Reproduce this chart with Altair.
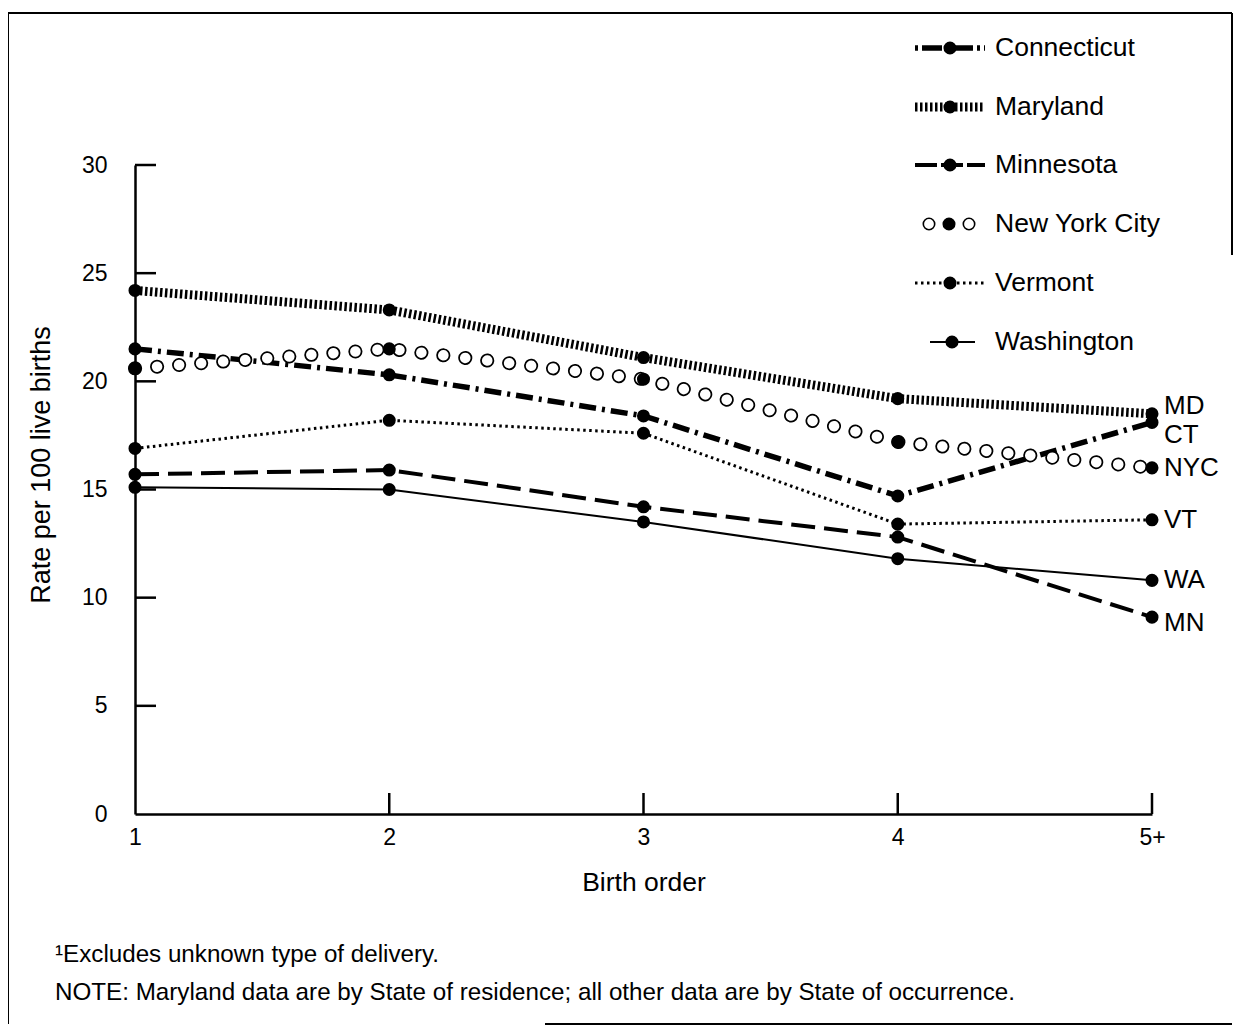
import altair as alt
import pandas as pd

orders = ["1", "2", "3", "4", "5+"]
states = ["Connecticut", "Maryland", "Minnesota", "New York City", "Vermont", "Washington"]
abbrs = ["CT", "MD", "MN", "NYC", "VT", "WA"]
ct = [21.5, 20.3, 18.4, 14.7, 18.1]
md = [24.2, 23.3, 21.1, 19.2, 18.5]
mn = [15.7, 15.9, 14.2, 12.8, 9.1]
nyc = [20.6, 21.5, 20.1, 17.2, 16.0]
vt = [16.9, 18.2, 17.6, 13.4, 13.6]
wa = [15.1, 15.0, 13.5, 11.8, 10.8]
y_ticks = [0, 5, 10, 15, 20, 25, 30]
x_inner_ticks = ["2", "3", "4", "5+"]
y_inner_ticks = [5, 10, 15, 20, 25, 30]

series = dict(zip(states, [ct, md, mn, nyc, vt, wa]))
rows = []
for s, vals in series.items():
    for o, v in zip(orders, vals):
        rows.append({"state": s, "order": o, "rate": v})
df = pd.DataFrame(rows)

FONT = "Liberation Sans"
W, H = 1017, 649

X = alt.X("order:O", sort=orders,
          scale=alt.Scale(type="point", domain=orders, padding=0),
          axis=alt.Axis(labelAngle=0, ticks=False, domainWidth=2.5, domainColor="black",
                        labelFontSize=23, labelPadding=12, labelColor="black", labelFont=FONT,
                        title="Birth order", titleFontSize=26.5, titleFontWeight="normal",
                        titleColor="black", titleFont=FONT, titlePadding=20, grid=False))
Y = alt.Y("rate:Q", scale=alt.Scale(domain=[0, 30], nice=False, zero=True),
          axis=alt.Axis(values=y_ticks, ticks=False, domainWidth=2.5, domainColor="black",
                        labelFontSize=23, labelPadding=28, labelColor="black", labelFont=FONT,
                        title=None, grid=False))

base = alt.Chart(df).encode(x=X, y=Y)

line_styles = {
    "Connecticut": [dict(strokeWidth=5.5, strokeDash=[17, 6, 3, 6])],
    "Maryland": [dict(strokeWidth=9, strokeDash=[2.5, 2.5])],
    "Minnesota": [dict(strokeWidth=4, strokeDash=[24, 9])],
    "New York City": [dict(strokeWidth=14, strokeDash=[0.1, 22], strokeCap="round"),
                      dict(strokeWidth=10.5, strokeDash=[0.1, 22], strokeCap="round", color="white")],
    "Vermont": [dict(strokeWidth=3, strokeDash=[2.5, 3.5])],
    "Washington": [dict(strokeWidth=2)],
}
legend_dash = {
    "Connecticut": [3, 4, 20, 4],
    "Minnesota": [22, 4],
}


def line_for(state, kw):
    opts = {"color": "black"}
    opts.update(kw)
    return base.transform_filter(alt.datum.state == state).mark_line(**opts)


layers = []

# frame
frame = alt.Chart(pd.DataFrame({"k": [0]}))
layers.append(frame.mark_rule(color="black", strokeWidth=2).encode(
    x=alt.value(-127), y=alt.value(-152), y2=alt.value(859)))
layers.append(frame.mark_rule(color="black", strokeWidth=2).encode(
    x=alt.value(-127), x2=alt.value(1097), y=alt.value(-152)))
layers.append(frame.mark_rule(color="black", strokeWidth=2).encode(
    x=alt.value(1097), y=alt.value(-152), y2=alt.value(90)))
layers.append(frame.mark_rule(color="black", strokeWidth=2).encode(
    x=alt.value(410), x2=alt.value(1097), y=alt.value(859)))

# inward ticks
ytk = pd.DataFrame({"rate": y_inner_ticks})
layers.append(alt.Chart(ytk).mark_rule(color="black", strokeWidth=2.5).encode(
    y=Y, x=alt.value(0), x2=alt.value(21)))
xtk = pd.DataFrame({"order": x_inner_ticks})
layers.append(alt.Chart(xtk).mark_rule(color="black", strokeWidth=2.5).encode(
    x=X, y=alt.value(H), y2=alt.value(H - 21)))

for s in states:
    for kw in line_styles[s]:
        layers.append(line_for(s, kw))

layers.append(base.mark_circle(size=170, color="black", opacity=1))

# end labels
label_dy = {"Maryland": -8, "Connecticut": 13, "New York City": 0,
            "Vermont": 0, "Washington": 0, "Minnesota": 6}
for s, a in zip(states, abbrs):
    layers.append(base.transform_filter((alt.datum.state == s) & (alt.datum.order == "5+"))
                  .mark_text(align="left", baseline="middle", dx=12, dy=label_dy[s],
                             fontSize=26, font=FONT, color="black", text=a))

# legend
leg_y = [-117, -58, 0, 59, 118, 177]
one = pd.DataFrame({"k": [0]})
for s, yy in zip(states, leg_y):
    c = alt.Chart(one)
    if s == "New York City":
        for xx in (794, 834):
            layers.append(c.mark_point(shape="circle", size=130, filled=False, color="black",
                                       strokeWidth=1.6, opacity=1)
                          .encode(x=alt.value(xx), y=alt.value(yy)))
        layers.append(c.mark_circle(size=170, color="black", opacity=1)
                      .encode(x=alt.value(814), y=alt.value(yy)))
    else:
        x0, x1, xd = 780, 850, 815
        if s == "Washington":
            x0, x1, xd = 795, 840, 817
        for kw in line_styles[s]:
            ropts = {"color": kw.get("color", "black"), "strokeWidth": kw["strokeWidth"]}
            dash = legend_dash.get(s, kw.get("strokeDash"))
            if dash:
                ropts["strokeDash"] = dash
            layers.append(c.mark_rule(**ropts)
                          .encode(x=alt.value(x0), x2=alt.value(x1), y=alt.value(yy)))
        layers.append(c.mark_circle(size=170, color="black", opacity=1)
                      .encode(x=alt.value(xd), y=alt.value(yy)))
    layers.append(c.mark_text(align="left", baseline="middle", fontSize=26.5, font=FONT,
                              color="black", text=s)
                  .encode(x=alt.value(860), y=alt.value(yy)))

# y title
layers.append(alt.Chart(one).mark_text(angle=270, align="center", baseline="middle",
                                       fontSize=27, font=FONT, color="black",
                                       text="Rate per 100 live births")
              .encode(x=alt.value(-93), y=alt.value(300)))

# footnotes
layers.append(alt.Chart(one).mark_text(align="left", baseline="middle", fontSize=24.2,
                                       font=FONT, color="black",
                                       text="\u00b9Excludes unknown type of delivery.")
              .encode(x=alt.value(-80), y=alt.value(790)))
layers.append(alt.Chart(one).mark_text(align="left", baseline="middle", fontSize=24.2,
                                       font=FONT, color="black",
                                       text="NOTE:  Maryland data are by State of residence; all other data are by State of occurrence.")
              .encode(x=alt.value(-80), y=alt.value(828)))

chart = alt.layer(*layers).properties(
    width=W, height=H,
    autosize=alt.AutoSizeParams(type="none"),
    padding={"left": 127, "top": 157, "right": 83, "bottom": 212},
).configure(font=FONT, background="white").configure_view(stroke=None)

chart.save("out.html", embed_options={"renderer": "svg", "actions": False})
